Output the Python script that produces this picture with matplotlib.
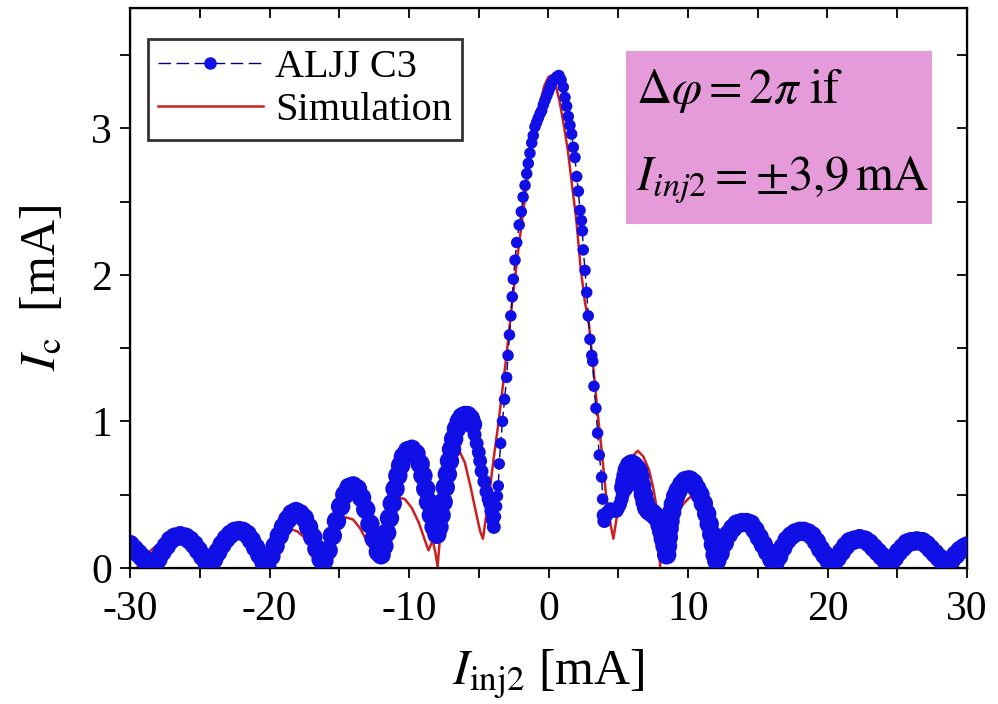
import matplotlib
matplotlib.use("Agg")
import matplotlib.pyplot as plt
import numpy as np
from matplotlib.lines import Line2D
from matplotlib.patches import Rectangle

plt.rcParams['font.family'] = ['Liberation Serif', 'DejaVu Serif']
plt.rcParams['mathtext.fontset'] = 'stix'

# ---- measured data: ALJJ C3 (blue dots) ----
meas_x = [-30.0, -29.7, -29.4, -29.1, -28.8, -28.5, -28.3, -28.0, -27.7, -27.4, -27.1, -26.8, -26.4,
          -26.0, -25.7, -25.4, -25.1, -24.8, -24.5, -24.3, -24.0, -23.7, -23.4, -23.1, -22.8, -22.5,
          -22.2, -21.9, -21.6, -21.3, -21.0, -20.7, -20.4, -20.2, -19.9, -19.6, -19.3, -19.0, -18.7,
          -18.4, -18.1, -17.8, -17.5, -17.2, -16.9, -16.6, -16.3, -16.1, -15.8, -15.5, -15.2, -14.9,
          -14.6, -14.3, -14.0, -13.7, -13.4, -13.1, -12.8, -12.5, -12.2, -12.0, -11.8, -11.6, -11.4,
          -11.2, -11.0, -10.8, -10.6, -10.4, -10.1, -9.8, -9.5, -9.2, -9.0, -8.8, -8.6, -8.4, -8.2,
          -8.0, -7.85, -7.7, -7.55, -7.4, -7.25, -7.1, -6.95, -6.8, -6.6, -6.4, -6.2, -6.0, -5.8,
          -5.6, -5.45, -5.3, -5.15, -5.0, -4.9, -4.8, -4.6, -4.45, -4.3, -4.2, -4.1, -4.0, -3.92,
          -3.8, -3.72, -3.66, -3.6, -3.53, -3.43, -3.3, -3.15, -3.0, -2.9, -2.8, -2.7, -2.6, -2.52,
          -2.4, -2.28, -2.1, -1.95, -1.82, -1.68, -1.56, -1.45, -1.33, -1.2, -1.09, -0.97, -0.85,
          -0.73, -0.6, -0.49, -0.37, -0.25, -0.12, 0.0, 0.12, 0.23, 0.4, 0.59, 0.75, 0.9, 1.06, 1.18,
          1.3, 1.42, 1.54, 1.66, 1.78, 1.9, 2.02, 2.14, 2.26, 2.36, 2.43, 2.49, 2.62, 2.74, 2.85,
          2.97, 3.1, 3.17, 3.26, 3.4, 3.52, 3.64, 3.81, 3.88, 3.95, 4.0, 4.15, 4.29, 4.41, 4.53, 4.7,
          4.89, 5.0, 5.13, 5.25, 5.32, 5.4, 5.48, 5.56, 5.65, 5.8, 5.96, 6.12, 6.3, 6.45, 6.56, 6.68,
          6.8, 6.92, 7.04, 7.2, 7.35, 7.51, 7.7, 7.87, 8.0, 8.11, 8.23, 8.35, 8.47, 8.53, 8.59, 8.65,
          8.71, 8.83, 8.95, 9.12, 9.3, 9.55, 9.78, 10.0, 10.14, 10.4, 10.64, 10.86, 11.1, 11.34,
          11.52, 11.7, 11.82, 11.94, 12.06, 12.3, 12.6, 12.9, 13.2, 13.5, 13.85, 14.2, 14.5, 14.8,
          15.1, 15.4, 15.7, 16.0, 16.25, 16.5, 16.8, 17.1, 17.4, 17.7, 18.0, 18.3, 18.6, 18.9, 19.2,
          19.5, 19.8, 20.1, 20.4, 20.7, 21.0, 21.3, 21.6, 21.9, 22.3, 22.7, 23.0, 23.3, 23.6, 23.9,
          24.2, 24.5, 24.8, 25.1, 25.4, 25.7, 26.0, 26.4, 26.8, 27.1, 27.4, 27.7, 28.0, 28.3, 28.65,
          28.9, 29.2, 29.5, 29.8, 30.0]
meas_y = [0.16, 0.13, 0.10, 0.07, 0.04, 0.02, 0.02, 0.06, 0.11, 0.15, 0.19, 0.21, 0.22,
          0.21, 0.19, 0.16, 0.12, 0.08, 0.04, 0.02, 0.06, 0.11, 0.16, 0.20, 0.23, 0.25,
          0.255, 0.25, 0.23, 0.19, 0.14, 0.09, 0.04, 0.02, 0.08, 0.15, 0.22, 0.28, 0.33,
          0.37, 0.385, 0.37, 0.34, 0.28, 0.21, 0.13, 0.06, 0.05, 0.12, 0.22, 0.32, 0.42,
          0.50, 0.55, 0.56, 0.54, 0.48, 0.40, 0.30, 0.20, 0.11, 0.09, 0.15, 0.24, 0.34,
          0.44, 0.54, 0.63, 0.70, 0.76, 0.80, 0.81, 0.78, 0.71, 0.63, 0.54, 0.45, 0.36, 0.28,
          0.23, 0.28, 0.36, 0.45, 0.55, 0.64, 0.73, 0.81, 0.88, 0.95, 1.00, 1.03, 1.04, 1.04,
          1.02, 0.98, 0.91, 0.85, 0.79, 0.73, 0.66, 0.59, 0.52, 0.47, 0.44, 0.39, 0.33, 0.28,
          0.35, 0.42, 0.49, 0.56, 0.71, 0.85, 1.00, 1.15, 1.30, 1.45, 1.59, 1.72, 1.85, 1.97,
          2.10, 2.22, 2.34, 2.43, 2.53, 2.61, 2.69, 2.76, 2.83, 2.90, 2.95, 3.01, 3.04,
          3.07, 3.10, 3.12, 3.16, 3.19, 3.22, 3.25, 3.28, 3.31, 3.33, 3.35, 3.36, 3.33, 3.28, 3.21,
          3.15, 3.08, 3.02, 2.96, 2.87, 2.80, 2.67, 2.57, 2.44, 2.37, 2.30, 2.17, 2.03, 1.88, 1.72,
          1.56, 1.45, 1.41, 1.24, 1.09, 0.92, 0.77, 0.62, 0.47, 0.36, 0.32, 0.36, 0.38, 0.40, 0.40, 0.39,
          0.39, 0.41, 0.435, 0.47, 0.50, 0.55, 0.59, 0.63, 0.67, 0.70, 0.71, 0.70, 0.68, 0.66, 0.62, 0.56,
          0.50, 0.45, 0.41, 0.39, 0.38, 0.37, 0.35, 0.34, 0.29, 0.25, 0.20, 0.15, 0.09, 0.15, 0.21, 0.27,
          0.32, 0.38, 0.435, 0.49, 0.53, 0.57, 0.595, 0.60, 0.60, 0.58, 0.54, 0.50, 0.44, 0.37,
          0.30, 0.23, 0.16, 0.09, 0.05, 0.10, 0.17, 0.23, 0.27, 0.30, 0.31, 0.31, 0.30, 0.26,
          0.21, 0.16, 0.11, 0.06, 0.04, 0.08, 0.14, 0.19, 0.22, 0.24, 0.25, 0.25, 0.24, 0.22, 0.18,
          0.13, 0.09, 0.05, 0.03, 0.07, 0.11, 0.15, 0.18, 0.19, 0.20, 0.19, 0.17, 0.14, 0.11, 0.08,
          0.05, 0.03, 0.07, 0.11, 0.14, 0.17, 0.18, 0.185, 0.18, 0.16, 0.13, 0.10, 0.07, 0.04, 0.03,
          0.06, 0.09, 0.12, 0.14, 0.15]

# ---- simulation (red line) ----
sim_x = [-29.5, -29.0, -28.5, -28.0, -27.3, -26.6, -26.0, -25.4, -24.9, -24.4, -24.0, -23.5, -23.0,
         -22.5, -22.0, -21.4, -20.8, -20.3, -19.8, -19.3, -18.9, -18.5, -18.0, -17.4, -16.9, -16.3,
         -15.8, -15.3, -14.9, -14.5, -14.0, -13.5, -13.0, -12.4, -12.0, -11.6, -11.2, -10.7, -10.3,
         -9.8, -9.3, -8.9, -8.6, -8.3, -8.1, -7.95, -7.7, -7.4, -7.0, -6.6, -6.4, -6.0, -5.6, -5.2,
         -4.9, -4.7, -4.4, -4.2, -3.9, -3.6, -3.3, -3.0, -2.7, -2.4, -2.1, -1.8, -1.5, -1.2, -0.9,
         -0.6, -0.3, 0.0, 0.2, 0.5, 0.8, 1.1, 1.4, 1.7, 2.0, 2.3, 2.6, 2.9, 3.2, 3.5, 3.8, 4.1, 4.4,
         4.65, 4.9, 5.2, 5.5, 5.9, 6.4, 6.8, 7.2, 7.5, 7.76, 7.9, 8.0, 8.1, 8.5, 8.9, 9.3, 9.7, 10.1,
         10.4, 10.8, 11.2, 11.6, 12.1, 12.5, 13.0, 13.5, 14.0, 14.4, 14.9, 15.4, 15.9, 16.3, 16.8,
         17.3, 17.9, 18.4, 18.9, 19.4, 19.9, 20.3, 20.8, 21.3, 21.9, 22.4, 22.9, 23.5, 24.0, 24.4,
         24.9, 25.4, 25.9, 26.4, 27.0, 27.6, 28.1, 28.6, 29.0, 29.4]
sim_y = [0.0, 0.07, 0.12, 0.16, 0.18, 0.185, 0.18, 0.14, 0.08, 0.0, 0.06, 0.14, 0.20,
         0.225, 0.21, 0.17, 0.10, 0.0, 0.10, 0.19, 0.24, 0.265, 0.25, 0.20, 0.13, 0.02,
         0.13, 0.25, 0.32, 0.345, 0.33, 0.27, 0.18, 0.08, 0.20, 0.32, 0.42, 0.48, 0.47,
         0.41, 0.31, 0.20, 0.12, 0.19, 0.10, 0.01, 0.30, 0.52, 0.70, 0.79, 0.80, 0.72, 0.56, 0.38,
         0.25, 0.20, 0.40, 0.54, 0.77, 0.98, 1.22, 1.46, 1.73, 1.98, 2.22, 2.44, 2.66, 2.86, 3.03,
         3.18, 3.29, 3.35, 3.36, 3.30, 3.18, 3.02, 2.84, 2.60, 2.37, 2.05, 1.82, 1.66, 1.38, 1.08, 0.81, 0.52, 0.32,
         0.20, 0.35, 0.52, 0.65, 0.75, 0.80, 0.76, 0.67, 0.55, 0.41, 0.20, 0.01, 0.18, 0.24, 0.31, 0.39, 0.44, 0.48,
         0.49, 0.44, 0.33, 0.19, 0.02, 0.14, 0.24, 0.30, 0.33, 0.335, 0.31, 0.22, 0.11, 0.01, 0.12,
         0.20, 0.25, 0.26, 0.24, 0.18, 0.09, 0.01, 0.10, 0.17, 0.21, 0.22, 0.20, 0.14, 0.07, 0.01,
         0.08, 0.14, 0.18, 0.19, 0.17, 0.12, 0.06, 0.01, 0.05, 0.0]

x_ticks = [-30, -20, -10, 0, 10, 20, 30]
x_minor = [-25, -15, -5, 5, 15, 25]
y_ticks = [0, 1, 2, 3]
y_minor = [0.5, 1.5, 2.5, 3.5]

fig = plt.figure(figsize=(9.98, 7.04), dpi=100)
ax = fig.add_axes([130/998, 1-568/704, (967-130)/998, (568-8)/704])

blue = '#1010E6'
red = '#CC2020'

ax.plot(sim_x, sim_y, color=red, lw=1.8, zorder=2)
ax.plot(meas_x, meas_y, color='#000080', lw=1.0, dashes=(6, 3), zorder=3)
mx = np.array(meas_x)
sizes = np.where(np.abs(mx) < 3.9, 8.3, np.where(np.abs(mx) < 5.4, 10.0, 14.0)) ** 2
ax.scatter(meas_x, meas_y, s=sizes, color=blue, edgecolors='none', zorder=4)

ax.set_xlim(-30, 30)
ax.set_ylim(0, 3.82)
ax.set_xticks(x_ticks)
ax.set_xticklabels([str(t) for t in x_ticks])
ax.set_yticks(y_ticks)
ax.set_yticklabels([str(t) for t in y_ticks])
ax.set_xticks(x_minor, minor=True)
ax.set_yticks(y_minor, minor=True)
for sp in ax.spines.values():
    sp.set_linewidth(1.6)
ax.tick_params(which='both', direction='out', length=7, width=1.3, labelsize=30,
               top=False, right=False)
ax.tick_params(axis='x', pad=9)
ax.tick_params(axis='y', pad=6)

axt = ax.twiny()
axt.set_xlim(ax.get_xlim())
axt.set_xticks(x_ticks)
axt.set_xticks(x_minor, minor=True)
axt.tick_params(which='both', direction='in', length=7, width=1.3, labeltop=False)
axr = ax.twinx()
axr.set_ylim(ax.get_ylim())
axr.set_yticks(y_ticks)
axr.set_yticks(y_minor, minor=True)
axr.tick_params(which='both', direction='in', length=7, width=1.3, labelright=False)

ax.set_xlabel(r'$I_{\mathrm{inj2}}$ [mA]', fontsize=36, labelpad=13)
ax.set_ylabel(r'$I_{\mathrm{c}}$  [mA]', fontsize=36, labelpad=18)

handles = [Line2D([], [], color='#000080', lw=1.0, dashes=(9, 4), marker='o',
                  markersize=8, markerfacecolor=blue, markeredgecolor=blue),
           Line2D([], [], color=red, lw=1.8)]
leg = fig.legend(handles, ['ALJJ C3', 'Simulation'], loc='upper left',
                 bbox_to_anchor=(148/998, 1-39/704), fontsize=29, frameon=True,
                 fancybox=False, edgecolor='black', handlelength=2.6,
                 handletextpad=0.3, labelspacing=0.15, borderpad=0.25, borderaxespad=0)
leg.get_frame().set_linewidth(2.0)

fig.patches.append(Rectangle((626/998, 1-224/704), (932-626)/998, (224-51)/704,
                             transform=fig.transFigure, facecolor='#E59BDA',
                             edgecolor='none', zorder=5))
fig.text(636/998, 1-103/704, r'$\Delta\varphi = 2\pi\ \mathrm{if}$', fontsize=35,
         va='baseline', ha='left', zorder=6)
fig.text(636/998, 1-190/704, r'$I_{inj2} = \pm 3{,}9\,\mathrm{mA}$', fontsize=35,
         va='baseline', ha='left', zorder=6)

fig.savefig('out.png', dpi=100)
